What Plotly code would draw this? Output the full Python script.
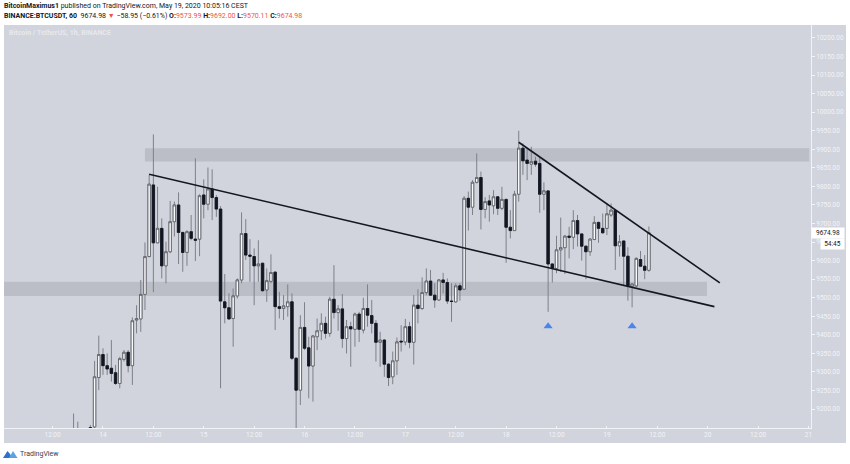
import pandas as pd
import plotly.graph_objects as go

start = "2020-05-13 17:00"
opens = [9120,9110,9120,9105,9150,9152,9285,9347,9317,9310,9298,9269,9334,9353,9317,9440,9443,9509,9611,9804,9648,9687,9586,9624,9705,9750,9676,9622,9678,9658,9658,9777,9752,9793,9770,9739,9489,9473,9444,9505,9548,9673,9615,9611,9586,
         9593,9521,9544,9569,9476,9471,9476,9489,9337,9251,9420,9365,9316,9395,9411,9431,9404,9496,9460,9470,9390,9422,9415,9456,9413,9471,9452,9431,9380,9386,9321,9287,9330,9383,9381,9422,9380,9480,9471,9514,9545,9507,9494,9548,9541,
         9491,9489,9532,9523,9768,9744,9811,9824,9738,9761,9748,9772,9741,9765,9690,9681,9779,9903,9871,9860,9868,9862,9779,9788,9591,9579,9629,9635,9666,9663,9708,9672,9639,9624,9657,9703,9687,9687,9723,9735,9640,9653,9612,9530,9532,9603,9585,9573.99]
highs = [9188,9166,9145,9140,9157,9330,9398,9364,9350,9386,9319,9341,9359,9359,9447,9480,9548,9649,9831,9940,9799,9714,9651,9761,9759,9784,9678,9682,9723,9876,9779,9819,9851,9846,9777,9747,9564,9512,9525,9552,9730,9712,9658,9633,9655,
         9594,9579,9617,9571,9516,9507,9536,9512,9340,9453,9488,9395,9399,9444,9458,9449,9503,9588,9480,9510,9440,9435,9460,9462,9500,9536,9494,9440,9408,9388,9323,9355,9393,9426,9443,9435,9507,9523,9555,9579,9575,9539,9550,9567,9552,
         9539,9539,9539,9774,9786,9817,9889,9840,9771,9777,9790,9774,9799,9767,9736,9788,9950,9916,9903,9907,9880,9880,9811,9790,9593,9667,9716,9669,9691,9736,9723,9673,9640,9660,9720,9705,9727,9754,9754,9737,9669,9654,9636,9539,9609,9626,9615,9692.00]
lows = [9080,9090,9090,9080,9120,9140,9251,9292,9292,9274,9265,9256,9328,9299,9265,9404,9408,9467,9609,9515,9647,9552,9539,9620,9665,9591,9570,9586,9655,9599,9612,9714,9736,9709,9718,9256,9431,9440,9368,9498,9539,9602,9543,9480,9543,
        9516,9489,9539,9413,9444,9440,9449,9332,9140,9211,9359,9229,9220,9359,9386,9390,9395,9444,9411,9365,9350,9314,9368,9381,9404,9422,9404,9328,9314,9287,9262,9267,9292,9355,9372,9364,9320,9431,9467,9507,9505,9473,9492,9512,9483,
        9435,9487,9492,9521,9681,9723,9808,9684,9714,9705,9725,9723,9736,9594,9660,9680,9759,9831,9817,9831,9853,9729,9736,9462,9541,9566,9570,9564,9606,9631,9638,9600,9550,9613,9655,9648,9673,9669,9718,9575,9611,9534,9492,9474,9528,9584,9550,9570.11]
closes = [9100,9120,9105,9095,9148,9287,9347,9317,9308,9296,9269,9336,9353,9317,9438,9443,9509,9611,9806,9648,9687,9586,9624,9705,9750,9676,9622,9678,9660,9655,9775,9752,9793,9770,9739,9491,9473,9443,9505,9548,9673,9615,9612,9586,9591,
          9519,9546,9568,9476,9471,9478,9489,9337,9251,9420,9364,9316,9397,9411,9431,9404,9496,9460,9470,9390,9422,9416,9456,9415,9471,9453,9431,9380,9386,9321,9285,9330,9381,9381,9422,9380,9480,9471,9514,9545,9507,9494,9548,9541,9491,
          9490,9532,9521,9768,9744,9811,9824,9738,9759,9750,9772,9741,9765,9690,9681,9779,9903,9869,9862,9867,9860,9779,9788,9591,9579,9629,9635,9666,9663,9708,9672,9639,9624,9658,9703,9687,9675,9726,9736,9640,9651,9612,9532,9537,9606,9585,9574,9674.98]

band_top = [9867, 9903]
band_low = [9505, 9543]
line1_x = ["2020-05-14 11:00", "2020-05-20 01:36"]
line1_y = [9833, 9476]
line2_x = ["2020-05-18 03:00", "2020-05-20 02:54"]
line2_y = [9919, 9540]
tri_x = ["2020-05-18 10:00", "2020-05-19 06:00"]
tri_y = [9423, 9423]
last_price = 9674.98

price_ticks = list(range(9200, 10201, 50))
time_ticks = ["12:00", "14", "12:00", "15", "12:00", "16", "12:00", "17", "12:00",
              "18", "12:00", "19", "12:00", "20", "12:00", "21"]

BG = "#d1d4dc"
LIGHT = "#f1f3f8"
dates = pd.date_range(start, periods=len(opens), freq="h")
time_vals = pd.date_range("2020-05-13 12:00", periods=len(time_ticks), freq="12h")
x0, x1 = pd.Timestamp("2020-05-13 00:26"), pd.Timestamp("2020-05-21 00:36")
band_top_x = [pd.Timestamp("2020-05-14 10:00"), pd.Timestamp("2020-05-21 00:10")]
band_low_x = [x0, pd.Timestamp("2020-05-19 23:50")]

L, R, T, B = 4, 811, 25, 428
px = lambda v: (v - L) / (R - L)
py = lambda v: 1 - (v - T) / (B - T)

body_top = [max(o, c) for o, c in zip(opens, closes)]
body_bottom = [min(o, c) for o, c in zip(opens, closes)]

fig = go.Figure()
# wicks: thin grey lines
fig.add_trace(go.Candlestick(
    x=dates, open=opens, high=highs, low=lows, close=closes,
    increasing=dict(line=dict(color="#7d8088", width=1), fillcolor="#f6f7f9"),
    decreasing=dict(line=dict(color="#7d8088", width=1), fillcolor="#131722"),
    whiskerwidth=0, showlegend=False, hoverinfo="skip"))
# bodies: same candles with no wicks and a dark border
fig.add_trace(go.Candlestick(
    x=dates, open=opens, high=body_top, low=body_bottom, close=closes,
    increasing=dict(line=dict(color="#55585f", width=0.8), fillcolor="#fafbfc"),
    decreasing=dict(line=dict(color="#131722", width=0.8), fillcolor="#131722"),
    whiskerwidth=0, showlegend=False, hoverinfo="skip"))
fig.add_trace(go.Scatter(x=line1_x, y=line1_y, mode="lines",
                         line=dict(color="#131722", width=1.6), showlegend=False))
fig.add_trace(go.Scatter(x=line2_x, y=line2_y, mode="lines",
                         line=dict(color="#131722", width=1.6), showlegend=False))
fig.add_trace(go.Scatter(x=tri_x, y=tri_y, mode="markers",
                         marker=dict(symbol="triangle-up", size=8, color="#4a86e8"),
                         showlegend=False))

shapes = [
    dict(type="rect", xref="paper", yref="paper", x0=1, x1=px(846), y0=py(B), y1=1,
         fillcolor=BG, line_width=0, layer="below"),
    dict(type="rect", xref="paper", yref="paper", x0=0, x1=px(846), y0=py(443), y1=0,
         fillcolor=BG, line_width=0, layer="below"),
    dict(type="rect", xref="x", yref="y", x0=band_top_x[0], x1=band_top_x[1],
         y0=band_top[0], y1=band_top[1], fillcolor="#bbbec6", line_width=0, layer="below"),
    dict(type="rect", xref="x", yref="y", x0=band_low_x[0], x1=band_low_x[1],
         y0=band_low[0], y1=band_low[1], fillcolor="#bbbec6", line_width=0, layer="below"),
    # TradingView logo
    dict(type="path", xref="paper", yref="paper",
         path=f"M {px(3)} {py(458)} L {px(7.5)} {py(451)} L {px(10)} {py(454)} L {px(12)} {py(458)} Z",
         fillcolor="#2f6fd0", line_width=0),
    dict(type="path", xref="paper", yref="paper",
         path=f"M {px(9)} {py(458)} L {px(13)} {py(451)} L {px(17.5)} {py(458)} Z",
         fillcolor="#5aa2e6", line_width=0),
]

FONT = "Roboto, 'Open Sans', sans-serif"
def note(x, y, text, size=7, color="#131722", **kw):
    return dict(x=px(x), y=py(y), xref="paper", yref="paper", text=text, showarrow=False,
                xanchor="left", yanchor="middle", font=dict(family=FONT, size=size, color=color),
                align="left", borderpad=0, **kw)

red = "#ef5350"
line2 = ("<b>BINANCE:BTCUSDT, 60</b>  9674.98 "
         f"<span style='color:{red}'>▼</span> −58.95 (−0.61%) "
         f"<b>O:</b><span style='color:{red}'>9573.99</span> "
         f"<b>H:</b><span style='color:{red}'>9692.00</span> "
         f"<b>L:</b><span style='color:{red}'>9570.11</span> "
         f"<b>C:</b><span style='color:{red}'>9674.98</span>")
annotations = [
    note(3, 6.5, "<b>BitcoinMaximus1</b> published on TradingView.com, May 19, 2020 10:05:16 CEST"),
    note(3, 16, line2),
    note(8, 33, "<b>Bitcoin / TetherUS, 1h, BINANCE</b>", color="#e6e8ee"),
    note(19, 454, "TradingView", color="#3a3e48"),
    dict(x=px(811), y=last_price, xref="paper", yref="y", text="9674.98", showarrow=False,
         xanchor="left", yanchor="middle", bgcolor="#ffffff", borderpad=0,
         font=dict(family=FONT, size=6.5, color="#131722"), width=32, height=10),
    dict(x=px(820), y=py(244), xref="paper", yref="paper", text="54:45", showarrow=False,
         xanchor="left", yanchor="middle", bgcolor="#ffffff", borderpad=0,
         font=dict(family=FONT, size=6.5, color="#131722"), width=23, height=10),
]

fig.update_layout(
    width=850, height=464,
    margin=dict(l=L, r=850 - R, t=T, b=464 - B, autoexpand=False),
    paper_bgcolor="#ffffff", plot_bgcolor=BG,
    shapes=shapes, annotations=annotations,
    showlegend=False, hovermode=False,
    boxgap=0.2, boxgroupgap=0.28,
    xaxis=dict(type="date", range=[x0, x1], rangeslider=dict(visible=False),
               tickmode="array", tickvals=list(time_vals), ticktext=time_ticks,
               showgrid=False, zeroline=False, showline=True, linecolor=LIGHT, linewidth=1,
               ticks="inside", ticklen=2, tickcolor=LIGHT,
               tickfont=dict(family=FONT, size=6.5, color=LIGHT)),
    yaxis=dict(range=[9149, 10235], side="right", tickmode="array", tickvals=price_ticks,
               tickformat=".2f", showgrid=False, zeroline=False, showline=True,
               linecolor=LIGHT, linewidth=1, ticks="outside", ticklen=3, tickcolor=LIGHT,
               tickfont=dict(family=FONT, size=6.5, color=LIGHT)),
)
fig.write_html("out.html", post_script="document.body.style.margin='0';",
               config=dict(displayModeBar=False))
